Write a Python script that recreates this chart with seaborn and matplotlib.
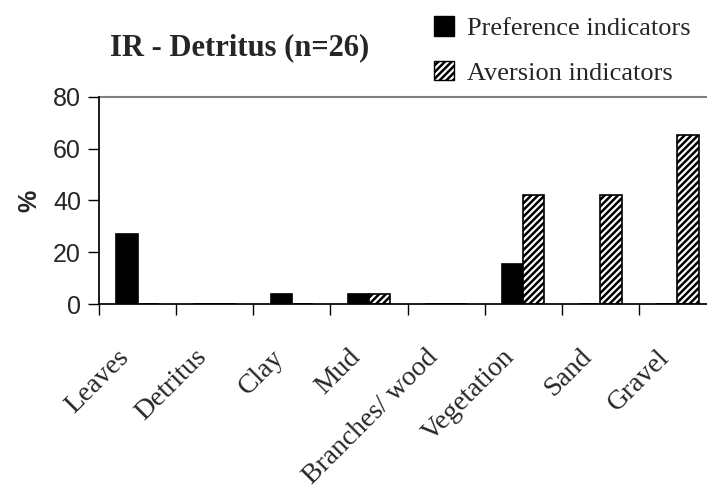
import matplotlib
matplotlib.use("Agg")
import matplotlib.pyplot as plt
import matplotlib.patches as mpatches
import matplotlib.transforms as mtransforms
import numpy as np
import pandas as pd
import seaborn as sns

categories = ["Leaves", "Detritus", "Clay", "Mud", "Branches/ wood",
              "Vegetation", "Sand", "Gravel"]
preference = [26.9, 0, 3.85, 3.85, 0, 15.4, 0, 0]
aversion = [0, 0, 0, 3.85, 0, 42.3, 42.3, 65.4]
series = ["Preference indicators", "Aversion indicators"]

df = pd.DataFrame({
    "cat": categories * 2,
    "val": preference + aversion,
    "series": [series[0]] * len(categories) + [series[1]] * len(categories),
})

sns.set_theme(style="white")
plt.rcParams["hatch.linewidth"] = 1.8
plt.rcParams["hatch.color"] = "black"

fig = plt.figure(figsize=(7.07, 4.94), dpi=100)
ax = fig.add_axes([99 / 707, 190 / 494, 617 / 707, 207 / 494])

sns.barplot(data=df, x="cat", y="val", hue="series", order=categories,
            hue_order=series, palette=["black", "white"], width=0.55,
            edgecolor="black", linewidth=1.2, legend=False, ax=ax)
for bar in ax.containers[1]:
    bar.set_hatch("/////")

ax.set_xlim(-0.5, 7.5)
ax.set_ylim(0, 80)
ax.set_yticks([0, 20, 40, 60, 80])
ax.tick_params(axis="y", which="major", length=8, width=1, color="black",
               labelsize=18, pad=5, left=True, direction="out")
for t in ax.get_yticklabels():
    t.set_family("Liberation Sans")

ax.set_xticks(range(len(categories)))
ax.set_xticklabels(categories, rotation=45, ha="right", va="center",
                   rotation_mode="anchor", family="Liberation Serif", fontsize=20)
ax.tick_params(axis="x", which="major", length=0, pad=40)
# nudge the slanted labels left/up like the original
shift = mtransforms.ScaledTranslation(-12 / 100, 6 / 100, fig.dpi_scale_trans)
for t in ax.get_xticklabels():
    t.set_transform(t.get_transform() + shift)
ax.set_xticks(np.arange(-0.5, 8, 1), minor=True)
ax.tick_params(axis="x", which="minor", length=8, width=1, color="black",
               bottom=True, direction="out")

for s in ["top", "right"]:
    ax.spines[s].set_visible(False)
ax.spines["left"].set_color("black")
ax.spines["bottom"].set_color("black")
ax.axhline(80, color="#808080", lw=1.5, clip_on=False)

ax.set_xlabel("")
ax.set_ylabel("%", fontsize=18, fontweight="bold", family="Liberation Sans",
              labelpad=8)

fig.text(240 / 707, 1 - 48 / 494, "IR - Detritus (n=26)", ha="center",
         va="center", fontsize=22, fontweight="bold", family="Liberation Serif")

handles = [mpatches.Patch(facecolor="black", edgecolor="black"),
           mpatches.Patch(facecolor="white", edgecolor="black", hatch="/////")]
fig.legend(handles, series, loc="upper left", bbox_to_anchor=(410 / 707, 1.015),
           frameon=False, prop={"family": "Liberation Serif", "size": 19},
           handlelength=0.75, handleheight=0.75, handletextpad=0.5,
           labelspacing=0.78)

fig.savefig("out.png", dpi=100)
